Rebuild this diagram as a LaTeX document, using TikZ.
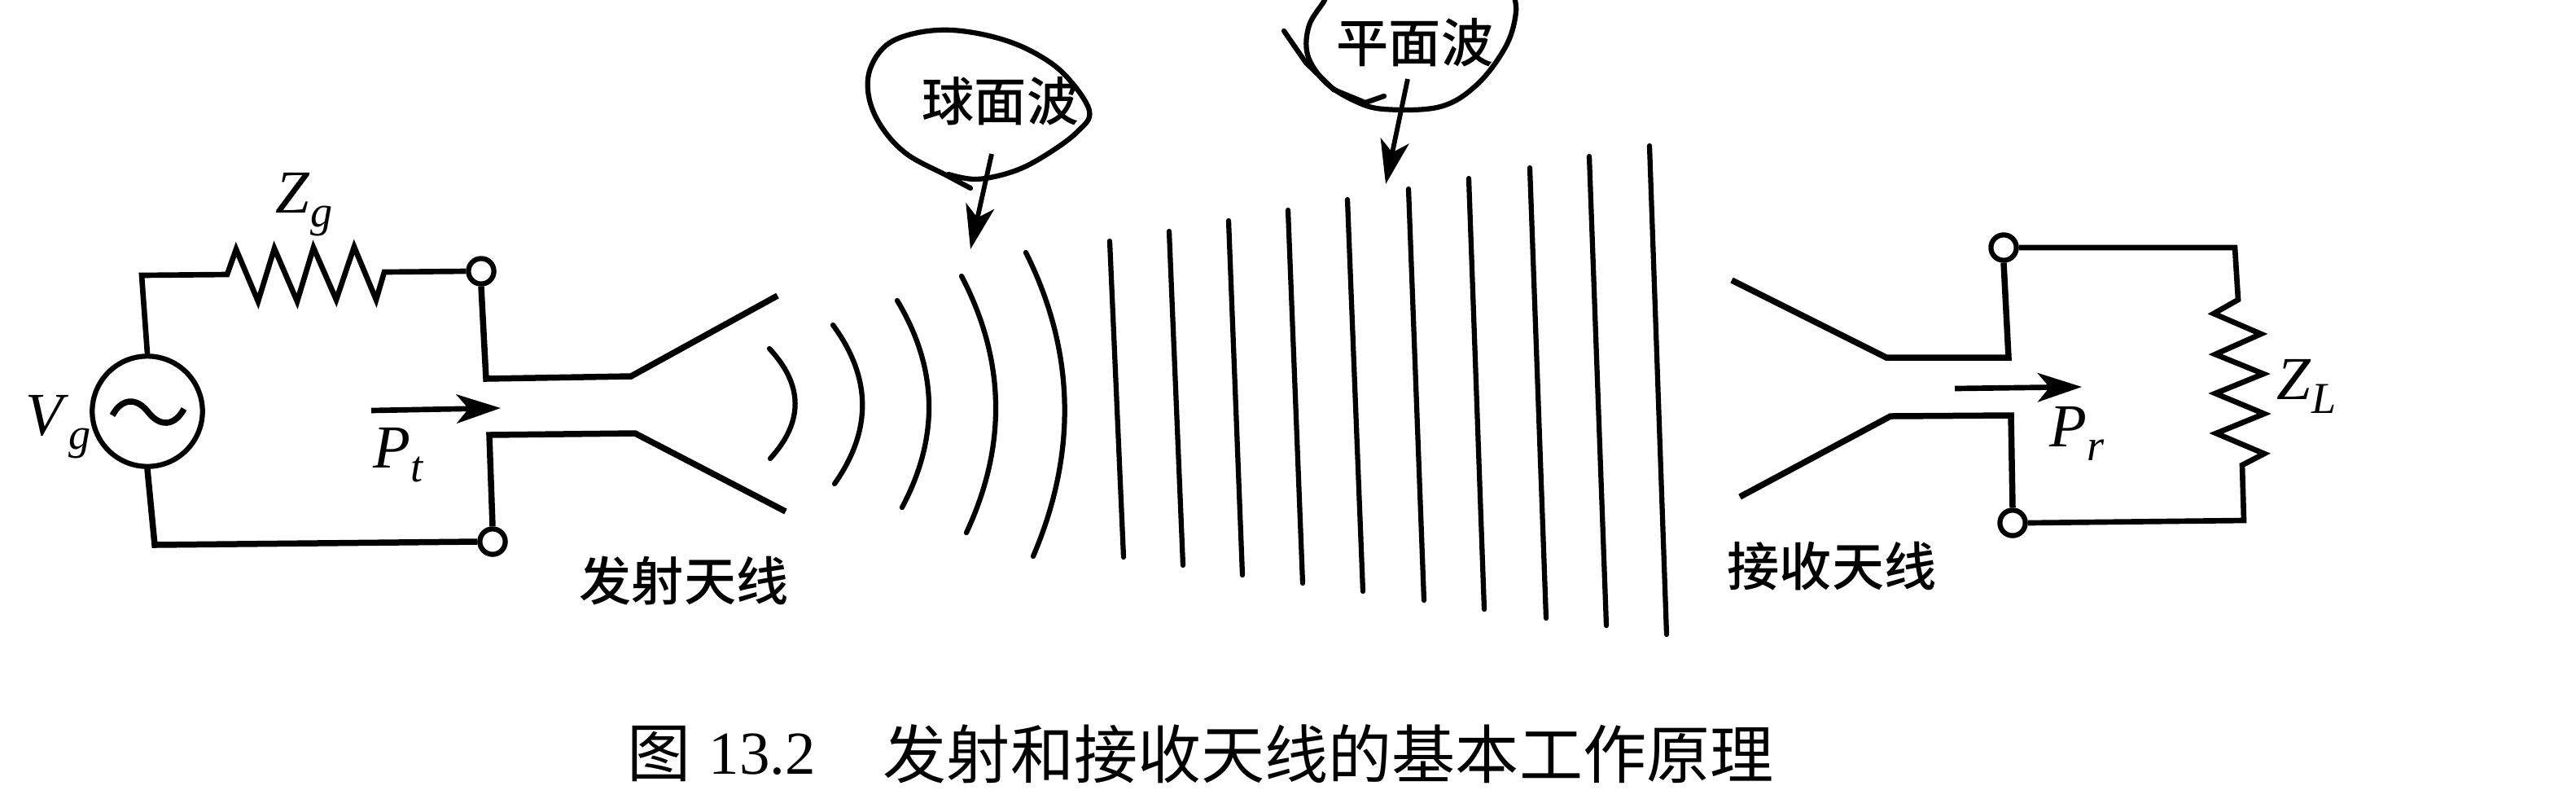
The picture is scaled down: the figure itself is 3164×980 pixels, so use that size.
\documentclass[tikz,border=0pt]{standalone}
\usepackage{fontspec}
\setmainfont{Liberation Serif}
\newfontfamily\cjk{Noto Sans CJK SC}
\newfontfamily\cjkm{Noto Sans CJK SC Medium}
\usetikzlibrary{arrows.meta}
\newcommand\symb[2]{\textit{#1}\raisebox{-4.2pt}{\fontsize{13}{13}\selectfont\textit{#2}}}
\tikzset{
  x=0.24pt,y=-0.24pt,
  wire/.style={draw=black,line width=1.8pt,line join=miter},
  res/.style={draw=black,line width=1.6pt,line join=miter},
  wave/.style={draw=black,line width=1.5pt,line cap=round},
  cloud/.style={draw=black,line width=1.5pt,line cap=round},
  term/.style={circle,draw=black,fill=white,line width=1.5pt,minimum size=7.5pt,inner sep=0pt},
  src/.style={circle,draw=black,line width=1.5pt,minimum size=32.5pt,inner sep=0pt},
  pointer/.style={draw=black,line width=1.4pt,-{Stealth[length=13pt,width=8.5pt,inset=3.5pt]}},
  flow/.style={draw=black,line width=1.6pt,-{Stealth[length=13pt,width=8.5pt,inset=3.5pt]}},
  lab/.style={font=\cjkm\fontsize{15.4}{18}\selectfont,inner sep=0pt},
  sym/.style={font=\fontsize{18}{20}\selectfont,inner sep=0pt,anchor=base west},
  captext/.style={font=\cjk\fontsize{18.75}{22}\selectfont,inner sep=0pt,anchor=west},
}
\begin{document}
\begin{tikzpicture}
\path[use as bounding box] (0,0) rectangle (3164,980);
\clip (0,0) rectangle (3164,980);
% terminals and source
\node[term] (t1) at (591,333) {};
\node[term] (t2) at (605,665) {};
\node[term] (t3) at (2461,304) {};
\node[term] (t4) at (2472,642) {};
\node[src] (vs) at (181,505) {};
% transmitter circuit
\draw[res] (vs.north) -- (174,338) -- (279,337) -- (290,306) -- (317,370) -- (337,305) -- (365,370) -- (385,304) -- (413,368) -- (435,303) -- (462,368) -- (472,334) -- (t1.west);
\draw[wire] (vs.south) -- (190,669) -- (t2.west);
\draw[wire] (t1.south) -- (597,465) -- (775,462) -- (955,363);
\draw[wire] (t2.north) -- (601,534) -- (780,532) -- (965,628);
\draw[line width=1.8pt] (138,510) .. controls (150,488) and (168,488) .. (182,506) .. controls (196,524) and (214,524) .. (226,502);
\coordinate (pta) at (456,504); \coordinate (ptb) at (615,501);
\draw[flow] (pta) -- (ptb);
% receiver circuit
\draw[wire] (t3.south) -- (2467,439) -- (2317,439) -- (2127,344);
\draw[wire] (t4.north) -- (2470,510) -- (2322,511) -- (2137,610);
\draw[res] (t3.east) -- (2745,304) -- (2749,368) -- (2719,385) -- (2777,410) -- (2721,435) -- (2780,459) -- (2721,483) -- (2781,508) -- (2722,532) -- (2781,557) -- (2754,571) -- (2756,639) -- (t4.east);
\coordinate (pra) at (2401,477); \coordinate (prb) at (2557,475);
\draw[flow] (pra) -- (prb);
% spherical fronts
\draw[wave] (945,428) .. controls (987,473) and (987,518) .. (946,563);
\draw[wave] (1023,399) .. controls (1071,464) and (1071,529) .. (1025,594);
\draw[wave] (1102,369) .. controls (1153,454) and (1153,538) .. (1108,623);
\draw[wave] (1181,339) .. controls (1236,444) and (1236,549) .. (1187,654);
\draw[wave] (1260,310) .. controls (1322,434) and (1322,559) .. (1269,683);
% plane fronts
\draw[wave] (1363,296) -- (1380,684);
\draw[wave] (1436,284) -- (1453,694);
\draw[wave] (1509,271) -- (1526,706);
\draw[wave] (1582,258) -- (1600,716);
\draw[wave] (1655,245) -- (1674,726);
\draw[wave] (1730,232) -- (1749,737);
\draw[wave] (1804,219) -- (1823,748);
\draw[wave] (1879,206) -- (1899,759);
\draw[wave] (1952,192) -- (1973,768);
\draw[wave] (2026,179) -- (2047,779);
% hand-drawn balloons
\draw[cloud] plot[smooth,tension=.6] coordinates {(1192,231) (1162,215) (1115,190) (1085,159) (1068,123) (1068,87) (1088,56) (1123,41) (1169,37) (1223,46) (1269,64) (1308,92) (1338,136) (1323,162) (1285,190) (1246,210) (1200,220) (1165,214)};
\draw[cloud] plot[smooth,tension=.6] coordinates {(1627,-10) (1627,0) (1608,31) (1606,67) (1627,100) (1662,123) (1700,134) (1769,131) (1815,103) (1850,56) (1862,15) (1858,-10)};
\draw[cloud] (1577,38) -- (1604,77) -- (1638,110) -- (1677,126) -- (1700,118);
% labels
\node[lab] (l1) at (840,713) {发射天线};
\node[lab] (l2) at (2250,695) {接收天线};
\node[lab] (l3) at (1229,124) {球面波};
\node[lab] (l4) at (1738,52) {平面波};
\coordinate (a1) at (1218,189); \coordinate (a2) at (1192,306);
\coordinate (b1) at (1729,97); \coordinate (b2) at (1702,226);
\draw[pointer] (a1) -- (a2);
\draw[pointer] (b1) -- (b2);
\node[sym] (zg) at (338,261) {\symb{Z}{g}};
\node[sym] (vg) at (31,534) {\symb{V}{g}};
\node[sym] (pt) at (458,574) {\symb{P}{t}};
\node[sym] (pr) at (2517,548) {\symb{P}{r}};
\node[sym] (zl) at (2796,490) {\symb{Z}{L}};
% caption
\node[captext] (c1) at (770,926) {图};
\node[captext,font=\fontsize{18}{22}\selectfont] (c2) at (870,926) {13.2};
\node[captext] (c3) at (1084,926) {发射和接收天线的基本工作原理};
\end{tikzpicture}
\end{document}
